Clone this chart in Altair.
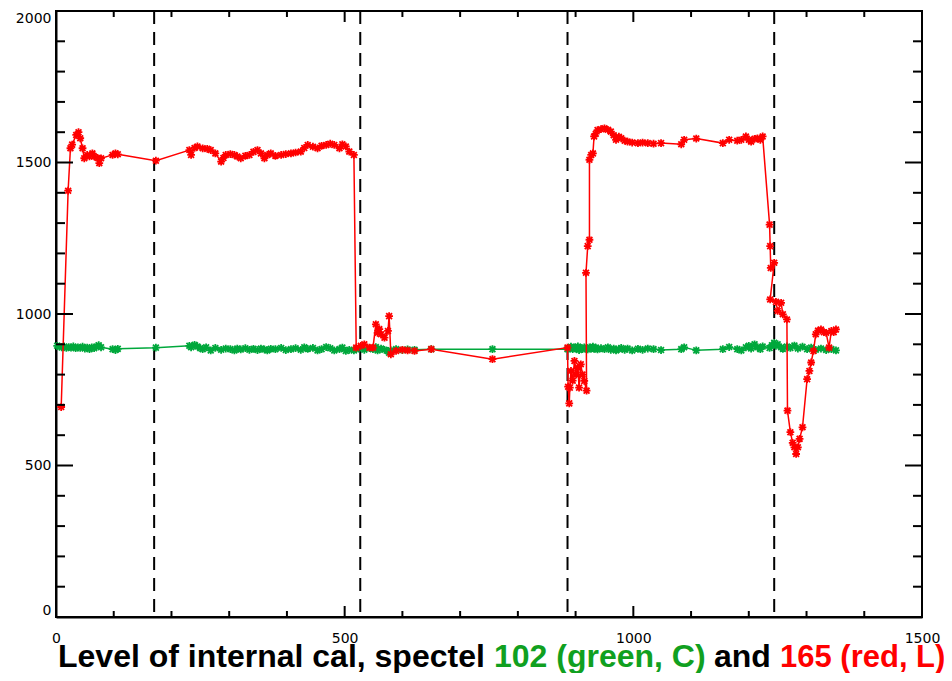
import altair as alt
import pandas as pd

# ---------------- data ----------------
red_x = [9, 21, 25, 28, 35, 39, 42, 46, 49, 54, 58, 63, 66, 72, 75, 78, 98, 103, 107, 173,
         231, 234, 240, 245, 254, 262, 268, 276, 286, 290, 294, 302, 309, 314, 320, 328, 335, 342,
         349, 355, 361, 366, 372, 380, 390, 398, 407, 415, 424, 430, 436, 445, 453, 460, 468, 475,
         482, 491, 496, 502, 508, 516, 520, 528, 534, 543, 549, 554, 557, 560, 563, 569, 575, 577,
         580, 589, 600, 609, 621, 650, 756, 886, 887, 889, 890, 892, 895, 898, 901, 904, 906, 909,
         912, 915, 919, 918, 921, 924, 924, 927, 930, 932, 935, 938, 944, 950, 956, 961, 966, 970,
         975, 979, 985, 990, 998, 1008, 1016, 1025, 1035, 1048, 1083, 1088, 1109, 1155, 1166, 1180,
         1187, 1195, 1200, 1204, 1210, 1215, 1220, 1224, 1236, 1237, 1238, 1244, 1237, 1247, 1250,
         1256, 1259, 1266, 1267, 1272, 1276, 1279, 1282, 1285, 1288, 1293, 1301, 1305, 1308, 1312,
         1316, 1320, 1325, 1330, 1334, 1339, 1343, 1347, 1351]
red_y = [693, 1407, 1547, 1559, 1591, 1600, 1580, 1547, 1514, 1525, 1520, 1530, 1520, 1515, 1498,
         1514, 1525, 1530, 1527, 1506, 1541, 1525, 1548, 1553, 1547, 1545, 1541, 1530, 1503, 1515,
         1525, 1528, 1525, 1520, 1514, 1522, 1525, 1535, 1541, 1530, 1514, 1525, 1530, 1522, 1525,
         1528, 1530, 1533, 1536, 1548, 1558, 1552, 1547, 1555, 1558, 1562, 1558, 1547, 1560, 1553,
         1536, 1525, 889, 895, 900, 889, 889, 966, 938, 950, 933, 922, 944, 993, 867, 878, 882, 880,
         878, 884, 851, 889, 760, 705, 757, 812, 780, 845, 800, 823, 757, 834, 800, 779, 747, 1136,
         1224, 1245, 1509, 1525, 1530, 1586, 1595, 1607, 1610, 1613, 1608, 1602, 1590, 1575, 1585,
         1580, 1572, 1569, 1566, 1564, 1566, 1564, 1562, 1564, 1560, 1575, 1579, 1564, 1575, 1572,
         1575, 1586, 1575, 1569, 1578, 1580, 1575, 1586, 1295, 1224, 1152, 1169, 1048, 1040, 1010,
         1037, 999, 982, 681, 610, 575, 560, 538, 560, 588, 626, 785, 812, 840, 878, 933, 945, 949,
         940, 938, 889, 944, 940, 949]

green_x = [2, 6, 10, 14, 18, 22, 26, 30, 34, 38, 42, 46, 50, 54, 58, 62, 66, 70, 74, 78, 98, 103,
           107, 173, 231, 234, 240, 245, 250, 254, 260, 268, 276, 286, 294, 302, 309, 314, 320, 328,
           335, 342, 349, 355, 361, 366, 372, 380, 390, 398, 407, 415, 424, 430, 436, 445, 453, 460,
           468, 475, 482, 491, 496, 502, 508, 516, 520, 528, 534, 543, 549, 554, 557, 563, 569, 575,
           577, 580, 589, 600, 609, 621, 650, 756, 886, 889, 892, 895, 898, 901, 904, 906, 909, 912,
           915, 919, 921, 924, 927, 930, 932, 935, 938, 944, 950, 956, 961, 966, 970, 975, 979, 985,
           990, 998, 1008, 1016, 1025, 1035, 1048, 1083, 1088, 1109, 1155, 1166, 1180, 1187, 1195,
           1200, 1204, 1210, 1215, 1220, 1224, 1236, 1240, 1244, 1247, 1250, 1256, 1259, 1266, 1272,
           1279, 1285, 1293, 1301, 1308, 1316, 1325, 1334, 1343, 1351]
green_y = [895, 892, 890, 893, 888, 891, 889, 893, 887, 890, 888, 892, 886, 889, 884, 890, 887, 893,
           897, 890, 884, 881, 885, 889, 895, 890, 898, 893, 887, 884, 890, 880, 888, 882, 886, 884,
           880, 886, 883, 887, 882, 885, 881, 886, 883, 880, 885, 884, 888, 881, 884, 887, 882, 890,
           885, 888, 880, 884, 891, 887, 880, 884, 889, 878, 882, 880, 884, 889, 882, 887, 884, 891,
           880, 886, 882, 878, 872, 880, 884, 881, 883, 882, 884, 884, 884, 887, 892, 884, 890, 886,
           893, 881, 888, 884, 890, 887, 883, 890, 886, 892, 885, 889, 883, 887, 884, 890, 882, 886,
           880, 884, 888, 882, 886, 880, 885, 882, 886, 884, 881, 884, 890, 880, 884, 891, 884, 880,
           890, 895, 886, 900, 890, 884, 893, 888, 897, 905, 895, 900, 890, 885, 893, 888, 896, 886,
           892, 884, 889, 882, 886, 881, 884, 880]

dash_x = [170, 527, 886, 1244]

x_major = [0, 500, 1000, 1500]
x_minor = [100, 200, 300, 400, 600, 700, 800, 900, 1100, 1200, 1300, 1400]
y_major = [0, 500, 1000, 1500, 2000]
y_minor = [100, 200, 300, 400, 600, 700, 800, 900, 1100, 1200, 1300, 1400,
           1600, 1700, 1800, 1900]

title_parts = ["Level of internal cal, spectel", "102 (green, C)", "and", "165 (red, L)"]
title_colors = ["#000000", "#10A020", "#000000", "#FF0000"]
title_xpos = [2, 438, 658, 724]
title_sizes = [32, 32, 32, 31]

RED = "#FF0000"
GREEN = "#00A83C"
W, H = 866, 606

red = pd.DataFrame({"x": red_x, "y": red_y, "i": range(len(red_x))})
green = pd.DataFrame({"x": green_x, "y": green_y, "i": range(len(green_x))})

xs = alt.Scale(domain=[0, 1500], nice=False, zero=False)
ys = alt.Scale(domain=[0, 2000], nice=False, zero=False)
xaxis = alt.Axis(values=x_major, title=None, tickSize=0, grid=False, domainColor="black",
                 domainWidth=2, labelFont="DejaVu Sans", labelFontSize=14, labelColor="black",
                 labelPadding=14, labelFlush=False, format="d")
yaxis = alt.Axis(values=y_major, title=None, tickSize=0, grid=False, domainColor="black",
                 domainWidth=2, labelFont="DejaVu Sans", labelFontSize=14, labelColor="black",
                 labelPadding=5, labelFlush=True, format="d")

X = alt.X("x:Q", scale=xs, axis=xaxis)
Y = alt.Y("y:Q", scale=ys, axis=yaxis)

AST = "M-1,0L1,0M0,-1L0,1M-0.75,-0.75L0.75,0.75M-0.75,0.75L0.75,-0.75"

def series(df, color):
    line = alt.Chart(df).mark_line(color=color, strokeWidth=1.5).encode(x=X, y=Y, order="i:Q")
    pts = alt.Chart(df).mark_point(shape=AST, filled=False, color=color, size=60,
                                   strokeWidth=1.8, opacity=1).encode(x=X, y=Y)
    return line + pts

dashes = alt.Chart(pd.DataFrame({"x": dash_x})).mark_rule(
    color="black", strokeWidth=2, strokeDash=[13, 8]).encode(x=X)

def xticks(vals, length):
    d = pd.DataFrame({"x": vals})
    b = alt.Chart(d).mark_rule(color="black", strokeWidth=2).encode(
        x=X, y=alt.value(H), y2=alt.value(H - length))
    t = alt.Chart(d).mark_rule(color="black", strokeWidth=2).encode(
        x=X, y=alt.value(0), y2=alt.value(length))
    return b + t

def yticks(vals, length):
    d = pd.DataFrame({"y": vals})
    l = alt.Chart(d).mark_rule(color="black", strokeWidth=2).encode(
        y=Y, x=alt.value(0), x2=alt.value(length))
    r = alt.Chart(d).mark_rule(color="black", strokeWidth=2).encode(
        y=Y, x=alt.value(W), x2=alt.value(W - length))
    return l + r

titles = []
for txt, col, px, fs in zip(title_parts, title_colors, title_xpos, title_sizes):
    titles.append(alt.Chart(pd.DataFrame({"t": [txt]})).mark_text(
        align="left", baseline="alphabetic", font="Liberation Sans", fontWeight="bold",
        fontSize=fs, color=col).encode(text="t:N", x=alt.value(px), y=alt.value(656)))

chart = alt.layer(
    dashes,
    series(green, GREEN),
    series(red, RED),
    xticks(x_major, 11), xticks(x_minor, 6),
    yticks(y_major, 17), yticks(y_minor, 9),
    *titles,
).properties(
    width=W, height=H,
    autosize=alt.AutoSizeParams(type="none"),
    padding={"left": 48, "top": 3, "right": 22, "bottom": 56},
    background="white",
).configure_view(stroke="black", strokeWidth=2)

chart.save("out.html", embed_options={"renderer": "svg", "actions": False})
